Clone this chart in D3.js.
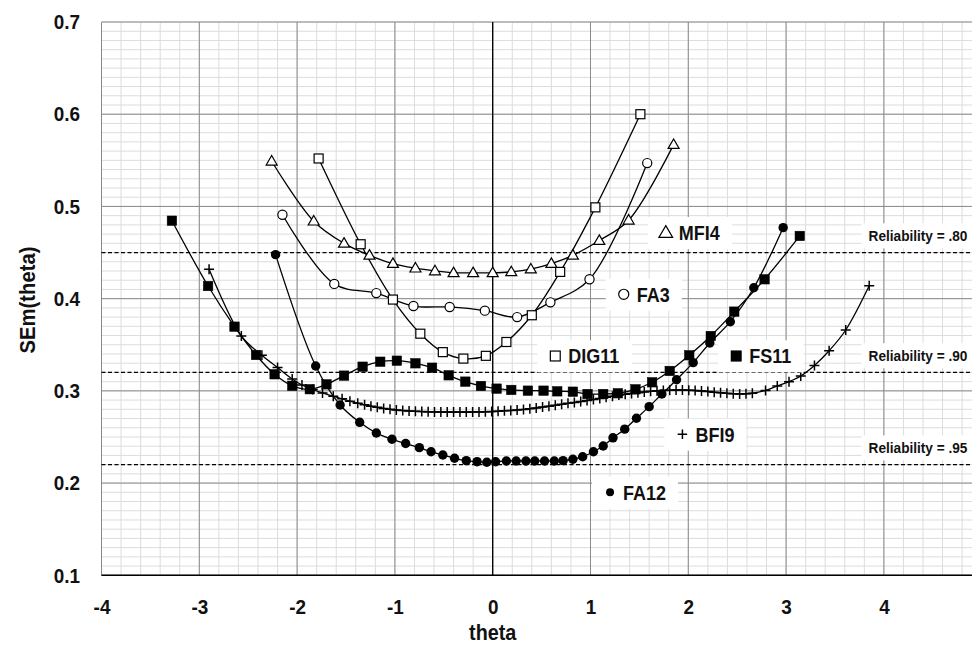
<!DOCTYPE html>
<html>
<head>
<meta charset="utf-8">
<script src="https://cdn.jsdelivr.net/npm/d3@7"></script>
<style>
  html, body { margin: 0; padding: 0; background: #fff; }
  svg { display: block; }
  text { font-family: "Liberation Sans Narrow", "Arial Narrow", "Liberation Sans", Arial, sans-serif; font-weight: bold; fill: #111; }
</style>
</head>
<body>
<svg id="chart" width="976" height="645"></svg>
<script>
// ---------------- DATA ----------------
const xTickLabels = ["-4", "-3", "-2", "-1", "0", "1", "2", "3", "4"];
const yTickLabels = ["0.1", "0.2", "0.3", "0.4", "0.5", "0.6", "0.7"];

const mfi4Theta = [-2.26, -1.83, -1.52, -1.26, -1.02, -0.79, -0.59, -0.40, -0.20, 0.00, 0.19, 0.39, 0.60, 0.82, 1.09, 1.39, 1.85];
const mfi4SEm   = [0.549, 0.484, 0.460, 0.447, 0.438, 0.433, 0.430, 0.428, 0.428, 0.428, 0.429, 0.432, 0.438, 0.447, 0.463, 0.485, 0.567];

const fa3Theta = [-2.15, -1.62, -1.19, -0.81, -0.44, -0.08, 0.25, 0.59, 0.99, 1.58];
const fa3SEm   = [0.491, 0.416, 0.406, 0.392, 0.391, 0.387, 0.380, 0.396, 0.421, 0.547];

const dig11Theta = [-1.78, -1.35, -1.02, -0.74, -0.51, -0.30, -0.07, 0.14, 0.40, 0.69, 1.05, 1.51];
const dig11SEm   = [0.552, 0.459, 0.399, 0.362, 0.342, 0.335, 0.338, 0.353, 0.382, 0.429, 0.499, 0.600];

const fs11Theta = [-3.28, -2.91, -2.64, -2.42, -2.23, -2.05, -1.87, -1.70, -1.52, -1.33, -1.15, -0.98, -0.79, -0.62, -0.45, -0.28, -0.12, 0.04, 0.19, 0.36, 0.52, 0.66, 0.82, 0.97, 1.13, 1.28, 1.46, 1.63, 1.81, 2.01, 2.23, 2.47, 2.78, 3.14];
const fs11SEm   = [0.4845, 0.4137, 0.3696, 0.3389, 0.3180, 0.3055, 0.3018, 0.3071, 0.3165, 0.3262, 0.3316, 0.3327, 0.3299, 0.3251, 0.3169, 0.3100, 0.3053, 0.3024, 0.3010, 0.3002, 0.3002, 0.2995, 0.2991, 0.2966, 0.2966, 0.2974, 0.3017, 0.3093, 0.3216, 0.3386, 0.3595, 0.3859, 0.4210, 0.4680];

const bfi9Theta = [-2.90, -2.57, -2.36, -2.20, -2.05, -1.95, -1.84, -1.74, -1.63, -1.54, -1.46, -1.38,
  -1.31, -1.245, -1.18, -1.115, -1.05, -0.985, -0.92, -0.855, -0.79, -0.725, -0.66, -0.595, -0.53, -0.465, -0.40, -0.335, -0.27, -0.205, -0.14, -0.075, -0.01,
  0.055, 0.12, 0.185, 0.25, 0.315, 0.38, 0.445, 0.51, 0.575, 0.64, 0.705, 0.77, 0.835, 0.90, 0.965, 1.03, 1.095, 1.16, 1.225, 1.29, 1.355, 1.42, 1.485, 1.55,
  1.615, 1.68, 1.745, 1.81, 1.875, 1.94, 2.005, 2.07, 2.135, 2.20, 2.265, 2.33, 2.395, 2.46, 2.525, 2.59, 2.655,
  2.79, 2.91, 3.03, 3.15, 3.29, 3.44, 3.61, 3.85];
const bfi9SEm = [0.4318, 0.3595, 0.3386, 0.3253, 0.3129, 0.3064, 0.3015, 0.2977, 0.2941, 0.2914, 0.2888, 0.2866,
  0.2849, 0.2834, 0.2821, 0.2809, 0.2800, 0.2793, 0.2786, 0.2782, 0.2778, 0.2775, 0.2773, 0.2772, 0.2771, 0.2771, 0.2770, 0.2770, 0.2770, 0.2771, 0.2772, 0.2773, 0.2775,
  0.2779, 0.2784, 0.2788, 0.2793, 0.2799, 0.2806, 0.2815, 0.2824, 0.2834, 0.2844, 0.2854, 0.2865, 0.2874, 0.2884, 0.2895, 0.2906, 0.2918, 0.2930, 0.2942, 0.2954, 0.2964, 0.2972, 0.2980, 0.2988,
  0.2995, 0.3001, 0.3005, 0.3008, 0.3010, 0.3010, 0.3008, 0.3004, 0.2999, 0.2993, 0.2986, 0.2979, 0.2973, 0.2969, 0.2967, 0.2968, 0.2974,
  0.3004, 0.3053, 0.3100, 0.3161, 0.3275, 0.3435, 0.3660, 0.4139];

const fa12Theta = [-2.22, -1.81, -1.56, -1.36, -1.19, -1.03, -0.89, -0.75, -0.63, -0.51, -0.39, -0.27, -0.16, -0.06, 0.03, 0.14, 0.24, 0.34, 0.43, 0.53, 0.63, 0.72, 0.82, 0.92, 1.03, 1.13, 1.23, 1.35, 1.47, 1.60, 1.73, 1.88, 2.05, 2.22, 2.43, 2.67, 2.97];
const fa12SEm   = [0.4477, 0.327, 0.2847, 0.2659, 0.2543, 0.2475, 0.2429, 0.2384, 0.2340, 0.2305, 0.2269, 0.2243, 0.2232, 0.2226, 0.2231, 0.2240, 0.2240, 0.2240, 0.2240, 0.2240, 0.2240, 0.2243, 0.2259, 0.2286, 0.2340, 0.2402, 0.2491, 0.2585, 0.2703, 0.2829, 0.2966, 0.3121, 0.3306, 0.3519, 0.3750, 0.4118, 0.4770];

const reliabilityValues = [0.45, 0.32, 0.22];
const reliabilityLabels = ["Reliability = .80", "Reliability = .90", "Reliability = .95"];

const seriesNames = ["MFI4", "FA3", "DIG11", "FS11", "BFI9", "FA12"];
// label anchor (symbol centre) in data units
const labelTheta = [1.77, 1.34, 0.64, 2.49, 1.94, 1.20];
const labelSEm   = [0.4715, 0.4047, 0.3378, 0.3378, 0.2529, 0.190];

// ---------------- CHART ----------------
const NARROW = 0.9;
const svg = d3.select("#chart");
const x = d3.scaleLinear().domain([-4, 4.9]).range([101.5, 971.9]);
const y = d3.scaleLinear().domain([0.1, 0.7]).range([575.3, 22]);

function ntext(parent, px, py, str, size, anchor, sx, rot) {
  const t = parent.append("text")
    .attr("transform", `translate(${px},${py})` + (rot ? ` rotate(${rot})` : "") + ` scale(${sx || NARROW},1)`)
    .attr("text-anchor", anchor || "start").attr("dy", "0.36em")
    .style("font-size", size + "px").text(str);
  return t;
}

const gGrid = svg.append("g");
gGrid.selectAll("line.mx").data(d3.range(-4, 4.9, 0.2)).join("line")
  .attr("x1", d => x(d)).attr("x2", d => x(d)).attr("y1", y(0.7)).attr("y2", y(0.1))
  .attr("stroke", "#dcdcdc").attr("stroke-width", 1);
gGrid.selectAll("line.my").data(d3.range(0.1, 0.7001, 0.01)).join("line")
  .attr("x1", x(-4)).attr("x2", x(4.9)).attr("y1", d => y(d)).attr("y2", d => y(d))
  .attr("stroke", "#dcdcdc").attr("stroke-width", 1);
gGrid.selectAll("line.Mx").data(d3.range(-4, 5, 1)).join("line")
  .attr("x1", d => x(d)).attr("x2", d => x(d)).attr("y1", y(0.7)).attr("y2", y(0.1))
  .attr("stroke", "#8a8a8a").attr("stroke-width", 1);
gGrid.selectAll("line.My").data(d3.range(0.1, 0.7001, 0.1)).join("line")
  .attr("x1", x(-4)).attr("x2", x(4.9)).attr("y1", d => y(d)).attr("y2", d => y(d))
  .attr("stroke", "#8a8a8a").attr("stroke-width", 1);

svg.append("line").attr("x1", x(0)).attr("x2", x(0)).attr("y1", y(0.7)).attr("y2", y(0.1))
  .attr("stroke", "#000").attr("stroke-width", 1.3);

// axes (d3 axes, labels narrowed)
const xAxis = d3.axisBottom(x).tickValues(d3.range(-4, 5, 1))
  .tickFormat((d, i) => xTickLabels[i]).tickSize(0).tickPadding(0);
const gx = svg.append("g").attr("transform", `translate(0,${y(0.1)})`).call(xAxis);
gx.select(".domain").attr("stroke", "#000").attr("stroke-width", 1.6).attr("d", `M${x(-4)},0H${x(4.9)}`);
gx.selectAll("text").attr("y", 0).attr("dy", "0.36em").attr("fill", "#111")
  .attr("transform", `translate(0,31) scale(${NARROW},1)`).style("font-size", "21px");

const yAxis = d3.axisLeft(y).tickValues(d3.range(0.1, 0.7001, 0.1))
  .tickFormat((d, i) => yTickLabels[i]).tickSize(0).tickPadding(0);
const gy = svg.append("g").attr("transform", `translate(${x(-4)},0)`).call(yAxis);
gy.select(".domain").remove();
gy.selectAll("text").attr("x", 0).attr("fill", "#111")
  .attr("transform", `translate(-21.5,0) scale(${NARROW},1)`).style("font-size", "21px");

// axis titles
ntext(svg, x(0), 632, "theta", 22, "middle", 0.9);
ntext(svg, 27, 300, "SEm(theta)", 22, "middle", 0.92, -90);

// reliability reference lines
reliabilityValues.forEach((v, i) => {
  svg.append("line").attr("x1", x(-4)).attr("x2", x(4.9)).attr("y1", y(v)).attr("y2", y(v))
    .attr("stroke", "#000").attr("stroke-width", 1.2).attr("stroke-dasharray", "4,2.5");
  const g = svg.append("g");
  const rect = g.append("rect");
  const t = ntext(g, 918, y(v) - 17, reliabilityLabels[i], 15.5, "middle", 0.88);
  const bb = t.node().getBoundingClientRect();
  rect.attr("x", bb.left - 7).attr("y", bb.top - 4).attr("width", bb.width + 14).attr("height", bb.height + 8)
    .attr("fill", "#fff");
});

// series
const series = [
  { theta: mfi4Theta, sem: mfi4SEm, type: "triOpen" },
  { theta: fa3Theta, sem: fa3SEm, type: "circOpen" },
  { theta: dig11Theta, sem: dig11SEm, type: "sqOpen" },
  { theta: fs11Theta, sem: fs11SEm, type: "sqFill" },
  { theta: bfi9Theta, sem: bfi9SEm, type: "plus" },
  { theta: fa12Theta, sem: fa12SEm, type: "circFill" }
];

const line = d3.line().x(d => x(d[0])).y(d => y(d[1])).curve(d3.curveCatmullRom.alpha(0.5));

function drawMarker(g, type, cx, cy, scale) {
  const s = scale || 1;
  if (type === "triOpen") {
    const h = 9.5 * s, w = 11 * s;
    g.append("path").attr("d", `M${cx},${cy - h * 0.6}L${cx + w / 2},${cy + h * 0.4}L${cx - w / 2},${cy + h * 0.4}Z`)
      .attr("fill", "#fff").attr("stroke", "#000").attr("stroke-width", 1.2);
  } else if (type === "circOpen") {
    g.append("circle").attr("cx", cx).attr("cy", cy).attr("r", 4.6 * s)
      .attr("fill", "#fff").attr("stroke", "#000").attr("stroke-width", 1.2);
  } else if (type === "sqOpen") {
    const a = 9 * s;
    g.append("rect").attr("x", cx - a / 2).attr("y", cy - a / 2).attr("width", a).attr("height", a)
      .attr("fill", "#fff").attr("stroke", "#000").attr("stroke-width", 1.2);
  } else if (type === "sqFill") {
    const a = 9.5 * s;
    g.append("rect").attr("x", cx - a / 2).attr("y", cy - a / 2).attr("width", a).attr("height", a)
      .attr("fill", "#000").attr("stroke", "#000").attr("stroke-width", 0.5);
  } else if (type === "plus") {
    const a = 5 * s;
    g.append("path").attr("d", `M${cx - a},${cy}H${cx + a}M${cx},${cy - a}V${cy + a}`)
      .attr("stroke", "#000").attr("stroke-width", 1.5).attr("fill", "none");
  } else if (type === "circFill") {
    g.append("circle").attr("cx", cx).attr("cy", cy).attr("r", 4.7 * s).attr("fill", "#000");
  }
}

const gLines = svg.append("g");
const gMarks = svg.append("g");
series.forEach(s => {
  const n = Math.min(s.theta.length, s.sem.length);
  const pts = d3.range(n).map(i => [s.theta[i], s.sem[i]]);
  gLines.append("path").datum(pts).attr("d", line)
    .attr("fill", "none").attr("stroke", "#000").attr("stroke-width", 1.3);
  pts.forEach(p => drawMarker(gMarks, s.type, x(p[0]), y(p[1])));
});

// series labels
const gLab = svg.append("g");
seriesNames.forEach((name, i) => {
  const cx = x(labelTheta[i]), cy = y(labelSEm[i]);
  const g = gLab.append("g");
  const rect = g.append("rect");
  const t = ntext(g, cx + 13, cy, name, 20, "start", 0.9);
  const bb = t.node().getBoundingClientRect();
  rect.attr("x", cx - 18).attr("y", bb.top - 5)
    .attr("width", bb.right - cx + 30).attr("height", bb.height + 10).attr("fill", "#fff");
  const type = series[i].type;
  const sc = type === "triOpen" ? 1.25 : (type === "plus" ? 0.95 : (type === "circFill" ? 0.85 : 1.1));
  drawMarker(g, type, cx, cy, sc);
});
</script>
</body>
</html>
